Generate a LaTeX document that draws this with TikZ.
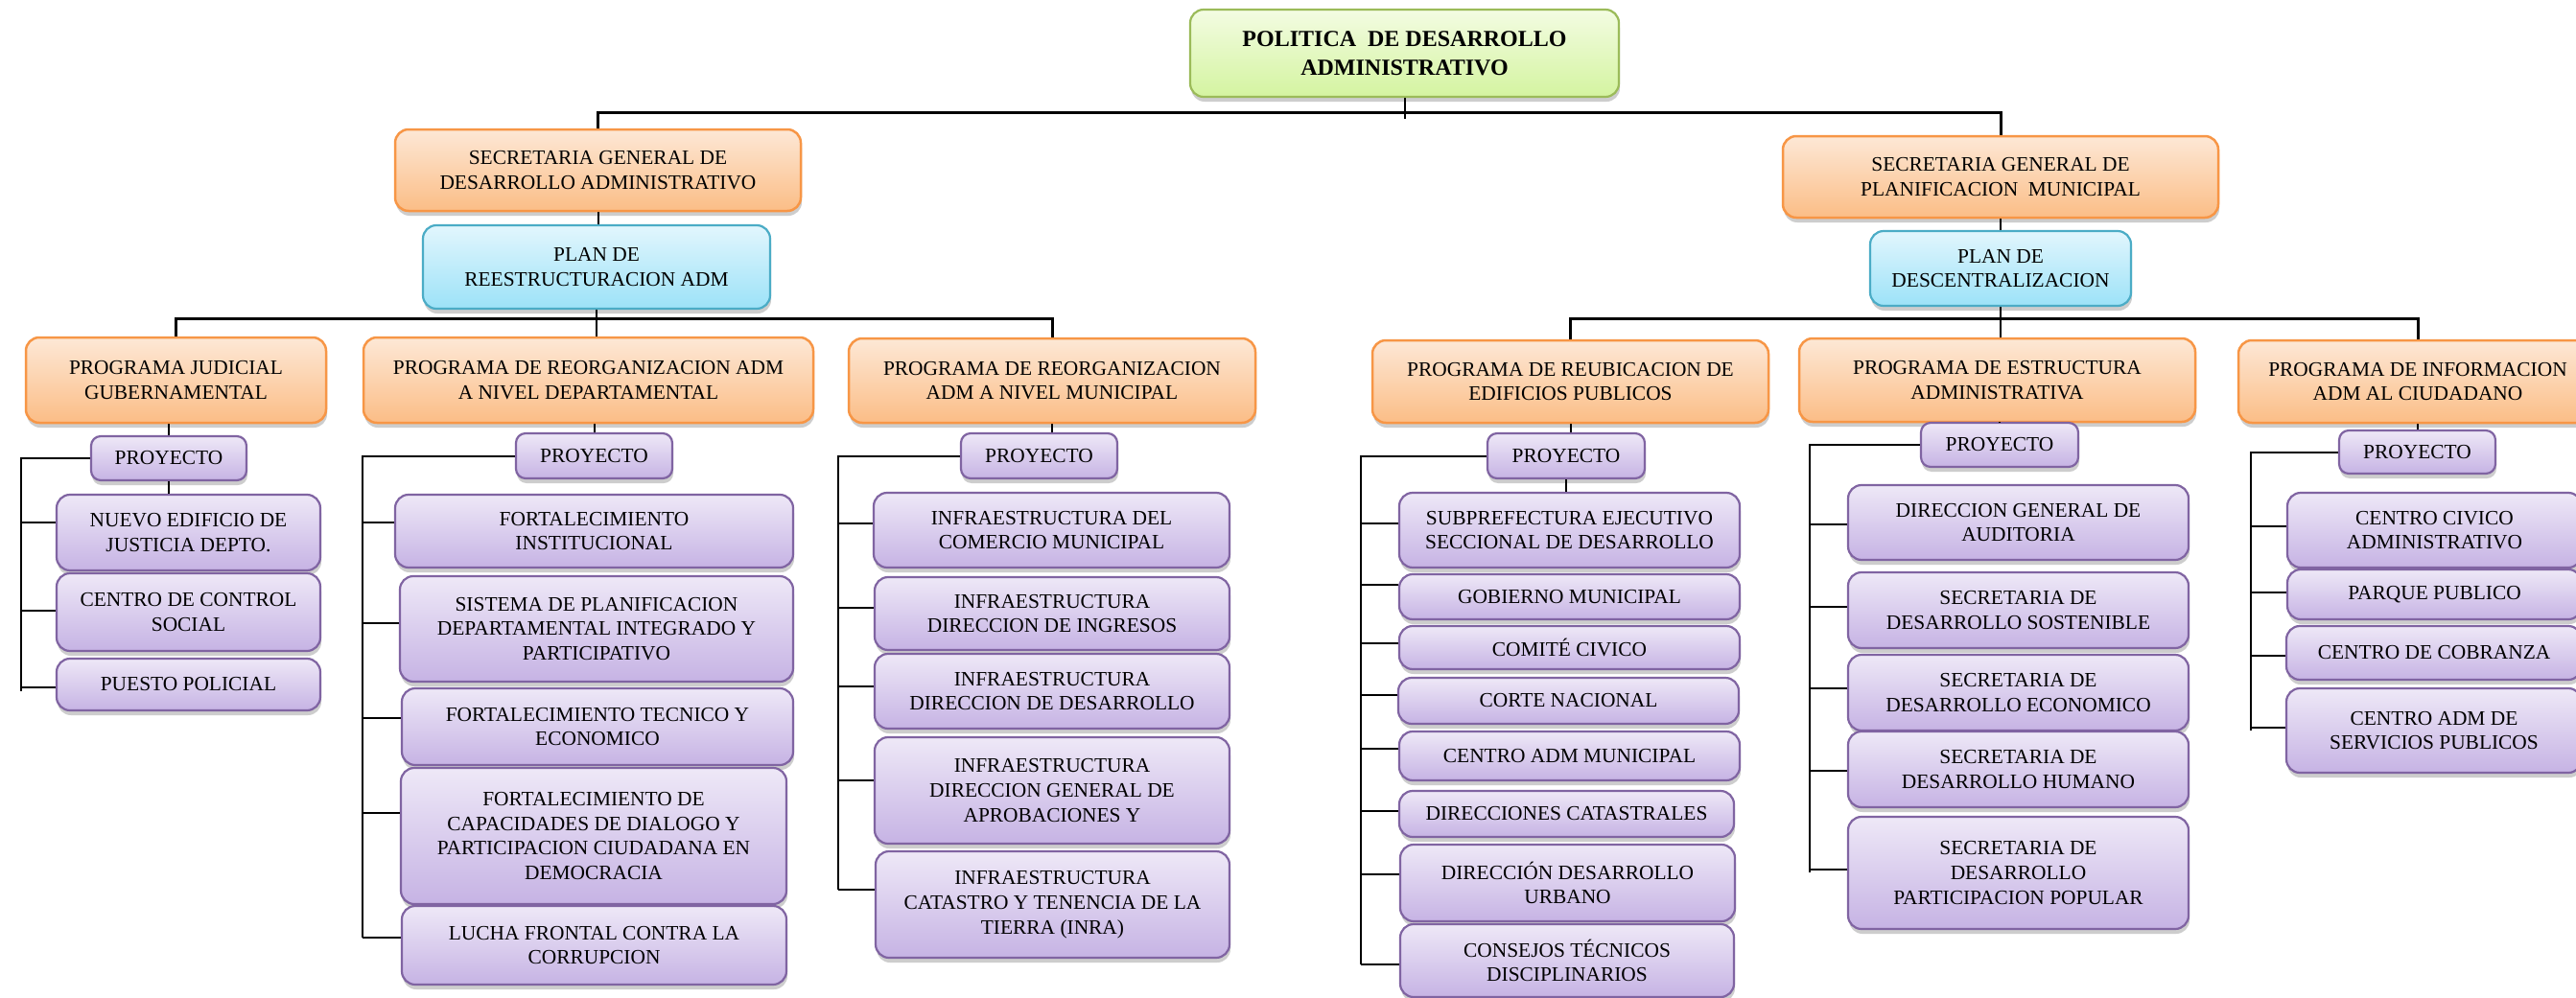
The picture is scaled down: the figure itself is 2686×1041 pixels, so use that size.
\documentclass[tikz,border=0pt]{standalone}
\usepackage{fontspec}
\setmainfont{Liberation Serif}
\usetikzlibrary{shadows}

\definecolor{orT}{HTML}{FDE8D6}
\definecolor{orD}{HTML}{FBBD86}
\definecolor{orB}{HTML}{F79646}
\definecolor{puT}{HTML}{EEE8F7}
\definecolor{puD}{HTML}{C6B3E4}
\definecolor{puB}{HTML}{8064A2}
\definecolor{blT}{HTML}{E2F6FD}
\definecolor{blD}{HTML}{9CE2F8}
\definecolor{blB}{HTML}{4BACC6}
\definecolor{grT}{HTML}{F3FCE2}
\definecolor{grD}{HTML}{D4F4A0}
\definecolor{grB}{HTML}{9BBB59}

\tikzset{
  box/.style={rounded corners=14pt, line width=2.2pt, align=center, inner sep=0pt,
    font=\fontsize{21.4}{25.7}\selectfont,
    drop shadow={shadow xshift=1pt, shadow yshift=-5pt, opacity=0.28, fill=black!70}},
  rootbox/.style={box, draw=grB, top color=grT, bottom color=grD,
    font=\fontsize{24}{30}\selectfont\bfseries},
  progbox/.style={box, draw=orB, top color=orT, bottom color=orD, line width=2.5pt},
  planbox/.style={box, draw=blB, top color=blT, bottom color=blD},
  itembox/.style={box, draw=puB, top color=puT, bottom color=puD},
  projbox/.style={itembox, rounded corners=10pt},
  conn/.style={line width=2pt, black},
  bus/.style={line width=3pt, black}
}

% box given by its corners in image units: name, style, x1, y1, x2, y2, text
\newcommand\bx[7]{%
  \pgfmathsetmacro\bxx{(#3+#5)/2}%
  \pgfmathsetmacro\bxy{(#4+#6)/2}%
  \pgfmathsetmacro\bxw{#5-#3}%
  \pgfmathsetmacro\bxh{#6-#4}%
  \node[#2, minimum width=\bxw pt, minimum height=\bxh pt] (#1) at (\bxx,\bxy) {#7};}

\begin{document}
\begin{tikzpicture}[x=1pt, y=-1pt]
\path[use as bounding box, fill=white] (0,0) rectangle (2686,1041);
\clip (0,0) rectangle (2686,1041);

% top levels
\bx{root}{rootbox}{1241}{10}{1688}{101}{POLITICA\ \ DE DESARROLLO\\ADMINISTRATIVO}
\bx{secL}{progbox}{412}{135}{835}{220}{SECRETARIA GENERAL DE\\DESARROLLO ADMINISTRATIVO}
\bx{secR}{progbox}{1859}{142}{2313}{227}{SECRETARIA GENERAL DE\\PLANIFICACION\ \ MUNICIPAL}
\bx{planL}{planbox}{441}{235}{803}{322}{PLAN DE\\REESTRUCTURACION ADM}
\bx{planR}{planbox}{1950}{241}{2222}{319}{PLAN DE\\DESCENTRALIZACION}

% programmes
\bx{P1}{progbox}{27}{352}{340}{441}{PROGRAMA JUDICIAL\\GUBERNAMENTAL}
\bx{P2}{progbox}{379}{352}{848}{441}{PROGRAMA DE REORGANIZACION ADM\\A NIVEL DEPARTAMENTAL}
\bx{P3}{progbox}{885}{353}{1309}{441}{PROGRAMA DE REORGANIZACION\\ADM A NIVEL MUNICIPAL}
\bx{R1}{progbox}{1431}{355}{1844}{441}{PROGRAMA DE REUBICACION DE\\EDIFICIOS PUBLICOS}
\bx{R2}{progbox}{1876}{353}{2289}{440}{PROGRAMA DE ESTRUCTURA\\ADMINISTRATIVA}
\bx{R3}{progbox}{2334}{355}{2708}{441}{PROGRAMA DE INFORMACION\\ADM AL CIUDADANO}

% project headers
\bx{pj1}{projbox}{95}{455}{257}{501}{PROYECTO}
\bx{pj2}{projbox}{538}{452}{701}{499}{PROYECTO}
\bx{pj3}{projbox}{1002}{452}{1165}{499}{PROYECTO}
\bx{pjR1}{projbox}{1551}{452}{1715}{499}{PROYECTO}
\bx{pjR2}{projbox}{2003}{441}{2167}{487}{PROYECTO}
\bx{pjR3}{projbox}{2439}{449}{2602}{494}{PROYECTO}

% judicial projects
\bx{a1}{itembox}{59}{516}{334}{595}{NUEVO EDIFICIO DE\\JUSTICIA DEPTO.}
\bx{a2}{itembox}{59}{598}{334}{679}{CENTRO DE CONTROL\\SOCIAL}
\bx{a3}{itembox}{59}{687}{334}{741}{PUESTO POLICIAL}

% departmental projects
\bx{b1}{itembox}{412}{516}{827}{592}{FORTALECIMIENTO\\INSTITUCIONAL}
\bx{b2}{itembox}{417}{601}{827}{711}{SISTEMA DE PLANIFICACION\\DEPARTAMENTAL INTEGRADO Y\\PARTICIPATIVO}
\bx{b3}{itembox}{419}{718}{827}{798}{FORTALECIMIENTO TECNICO Y\\ECONOMICO}
\bx{b4}{itembox}{418}{801}{820}{943}{FORTALECIMIENTO DE\\CAPACIDADES DE DIALOGO Y\\PARTICIPACION CIUDADANA EN\\DEMOCRACIA}
\bx{b5}{itembox}{419}{945}{820}{1027}{LUCHA FRONTAL CONTRA LA\\CORRUPCION}

% municipal projects
\bx{c1}{itembox}{911}{514}{1282}{592}{INFRAESTRUCTURA DEL\\COMERCIO MUNICIPAL}
\bx{c2}{itembox}{912}{602}{1282}{678}{INFRAESTRUCTURA\\DIRECCION DE INGRESOS}
\bx{c3}{itembox}{912}{682}{1282}{760}{INFRAESTRUCTURA\\DIRECCION DE DESARROLLO}
\bx{c4}{itembox}{912}{769}{1282}{880}{INFRAESTRUCTURA\\DIRECCION GENERAL DE\\APROBACIONES Y}
\bx{c5}{itembox}{913}{888}{1282}{999}{INFRAESTRUCTURA\\CATASTRO Y TENENCIA DE LA\\TIERRA (INRA)}

% relocation projects
\bx{d1}{itembox}{1459}{514}{1814}{592}{SUBPREFECTURA EJECUTIVO\\SECCIONAL DE DESARROLLO}
\bx{d2}{itembox}{1459}{599}{1814}{646}{GOBIERNO MUNICIPAL}
\bx{d3}{itembox}{1459}{653}{1814}{698}{COMITÉ CIVICO}
\bx{d4}{itembox}{1458}{707}{1813}{755}{CORTE NACIONAL}
\bx{d5}{itembox}{1459}{763}{1814}{814}{CENTRO ADM MUNICIPAL}
\bx{d6}{itembox}{1459}{825}{1808}{873}{DIRECCIONES CATASTRALES}
\bx{d7}{itembox}{1460}{881}{1809}{961}{DIRECCIÓN DESARROLLO\\URBANO}
\bx{d8}{itembox}{1460}{964}{1808}{1040}{CONSEJOS TÉCNICOS\\DISCIPLINARIOS}

% structure projects
\bx{e1}{itembox}{1927}{506}{2282}{584}{DIRECCION GENERAL DE\\AUDITORIA}
\bx{e2}{itembox}{1927}{597}{2282}{676}{SECRETARIA DE\\DESARROLLO SOSTENIBLE}
\bx{e3}{itembox}{1927}{683}{2282}{762}{SECRETARIA DE\\DESARROLLO ECONOMICO}
\bx{e4}{itembox}{1927}{763}{2282}{842}{SECRETARIA DE\\DESARROLLO HUMANO}
\bx{e5}{itembox}{1927}{852}{2282}{969}{SECRETARIA DE\\DESARROLLO\\PARTICIPACION POPULAR}

% citizen information projects
\bx{f1}{itembox}{2385}{514}{2692}{592}{CENTRO CIVICO\\ADMINISTRATIVO}
\bx{f2}{itembox}{2385}{594}{2692}{646}{PARQUE PUBLICO}
\bx{f3}{itembox}{2384}{653}{2692}{709}{CENTRO DE COBRANZA}
\bx{f4}{itembox}{2384}{718}{2692}{806}{CENTRO ADM DE\\SERVICIOS PUBLICOS}

% bus levels and bracket columns
\coordinate (topbus) at (1464,117);
\coordinate (lbus) at (0,332);
\coordinate (rbus) at (0,332);
\coordinate (bk1) at (22,0);
\coordinate (bk2) at (378,0);
\coordinate (bk3) at (874,0);
\coordinate (bk4) at (1419,0);
\coordinate (bk5) at (1887,0);
\coordinate (bk6) at (2347,0);

% upper connectors
\draw[conn] (root.south) -- ++(0,22);
\draw[bus] (secL.north) -- (secL.north |- topbus) -- (secR.north |- topbus) -- (secR.north);
\draw[conn] (secL.south) -- (secL.south |- planL.north);
\draw[conn] (secR.south) -- (secR.south |- planR.north);

% programme buses
\draw[bus] (P1.north) -- (P1.north |- lbus) -- (P3.north |- lbus) -- (P3.north);
\draw[conn] (planL.south) -- (planL.south |- P2.north);
\draw[bus] (R1.north) -- (R1.north |- rbus) -- (R3.north |- rbus) -- (R3.north);
\draw[conn] (planR.south) -- (planR.south |- R2.north);

% programme to project header
\draw[conn] (pj1.north |- P1.south) -- (pj1.north);
\draw[conn] (pj1.south) -- (pj1.south |- a1.north);
\draw[conn] (pj2.north |- P2.south) -- (pj2.north);
\draw[conn] (P3.south) -- (P3.south |- pj3.north);
\draw[conn] (R1.south) -- (R1.south |- pjR1.north);
\draw[conn] (pjR1.south) -- (pjR1.south |- d1.north);
\draw[conn] (pjR2.north |- R2.south) -- (pjR2.north);
\draw[conn] (pjR3.north |- R3.south) -- (pjR3.north);

% brackets: spine from each project header, one tick per project
\draw[conn] (pj1.west) -- (pj1.west -| bk1) -- (bk1 |- 0,721);
\foreach \n/\y in {a1/545,a2/637,a3/717} \draw[conn] (bk1 |- 0,\y) -- (\n.west |- 0,\y);
\draw[conn] (pj2.west) -- (pj2.west -| bk2) -- (bk2 |- 0,978);
\foreach \n/\y in {b1/545,b2/650,b3/749,b4/848,b5/978} \draw[conn] (bk2 |- 0,\y) -- (\n.west |- 0,\y);
\draw[conn] (pj3.west) -- (pj3.west -| bk3) -- (bk3 |- 0,928);
\foreach \n/\y in {c1/546,c2/634,c3/716,c4/814,c5/928} \draw[conn] (bk3 |- 0,\y) -- (\n.west |- 0,\y);
\draw[conn] (pjR1.west) -- (pjR1.west -| bk4) -- (bk4 |- 0,1006);
\foreach \n/\y in {d1/546,d2/610,d3/671,d4/725,d5/781,d6/846,d7/912,d8/1006} \draw[conn] (bk4 |- 0,\y) -- (\n.west |- 0,\y);
\draw[conn] (pjR2.west) -- (pjR2.west -| bk5) -- (bk5 |- 0,910);
\foreach \n/\y in {e1/547,e2/633,e3/718,e4/804,e5/907} \draw[conn] (bk5 |- 0,\y) -- (\n.west |- 0,\y);
\draw[conn] (pjR3.west) -- (pjR3.west -| bk6) -- (bk6 |- 0,762);
\foreach \n/\y in {f1/549,f2/618,f3/684,f4/759} \draw[conn] (bk6 |- 0,\y) -- (\n.west |- 0,\y);
\end{tikzpicture}
\end{document}
